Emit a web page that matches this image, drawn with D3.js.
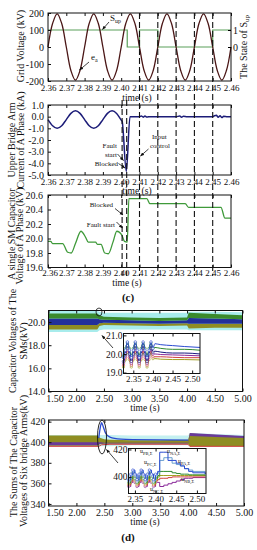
<!DOCTYPE html>
<html><head><meta charset="utf-8">
<script src="https://cdn.jsdelivr.net/npm/d3@7"></script>
<style>
body{margin:0;background:#fff}
svg{display:block}
text{font-family:"Liberation Serif","Times New Roman",serif;fill:#111}
</style></head><body>
<script>
// ---------------- DATA ----------------
// Panel (c)-1 : grid voltage e_a (kV) and S_up state
const eaT = [2.36,2.3625,2.365,2.3675,2.37,2.3725,2.375,2.3775,2.38,2.3825,2.385,2.3875,2.39,2.3925,2.395,2.3975,2.40,2.4025,2.405,2.4075,2.41,2.4125,2.415,2.4175,2.42,2.4225,2.425,2.4275,2.43,2.4325,2.435,2.4375,2.44,2.4425,2.445,2.4475,2.45,2.4525,2.455,2.4575,2.46];
const eaV = [0,138,195,138,0,-138,-195,-138,0,138,195,138,0,-138,-195,-138,0,138,195,138,0,-138,-195,-138,0,138,195,138,0,-138,-195,-138,0,138,195,138,0,-138,-195,-138,0];
const supT = [2.36,2.4033,2.41,2.42,2.45,2.46];
const supV = [1,0,1,0,1,1];
const gridTicks = [-200,-100,0,100,200];
const supTicks = [0,1];
const timeTicksC = [2.36,2.37,2.38,2.39,2.40,2.41,2.42,2.43,2.44,2.45,2.46];
const eventT = [2.4005,2.403];
const stepT = [2.41,2.42,2.43,2.44,2.45];
// Panel (c)-2 : upper bridge arm current (kA)
const curT = [2.36,2.3625,2.365,2.3675,2.37,2.3725,2.375,2.3775,2.38,2.3825,2.385,2.3875,2.39,2.3925,2.395,2.3975,2.40,2.4005,2.4028,2.4048,2.41,2.411,2.412,2.413,2.414,2.416,2.43,2.432,2.433,2.434,2.436,2.45,2.451,2.452,2.453,2.454,2.455,2.456,2.458,2.46];
const curV = [-0.25,-0.78,-1.0,-0.78,-0.25,0.28,0.5,0.28,-0.25,-0.78,-1.0,-0.78,-0.25,0.28,0.5,0.28,-0.3,-0.4,-4.7,0.0,0.0,0.06,-0.04,0.05,-0.03,0.0,0.0,0.05,-0.05,0.04,0.0,0.0,0.08,0.12,-0.05,0.08,-0.08,0.04,0.0,0.0];
const curTicks = [-5,-4,-3,-2,-1,0,1];
// Panel (c)-3 : single SM capacitor voltage (kV)
const smT = [2.36,2.3615,2.3625,2.368,2.3708,2.3727,2.375,2.378,2.3805,2.382,2.386,2.387,2.389,2.391,2.393,2.3955,2.3976,2.4003,2.4018,2.4033,2.4042,2.414,2.4157,2.435,2.4368,2.4545,2.4567,2.46];
const smV = [19.96,19.96,19.93,19.93,19.81,19.80,19.93,20.10,20.02,19.95,19.95,19.92,19.92,19.80,19.79,19.95,20.10,20.05,19.96,19.95,20.55,20.55,20.48,20.48,20.43,20.43,20.28,20.28];
const smTicks = [19.6,19.8,20.0,20.2,20.4,20.6];
// Panel (d)-1 : capacitor voltages of the SMs (envelopes of the bands)
const dT = [1.5,2.38,2.42,2.5,3.0,3.5,4.0,4.03,4.5,5.0];
const smCyanHi = [20.95,20.95,20.9,20.8,20.8,20.8,20.8,20.9,20.9,20.85];
const smCyanLo = [19.15,19.15,19.3,19.35,19.35,19.35,19.35,19.3,19.3,19.3];
const smGreenHi = [20.75,20.75,20.6,20.45,20.4,20.35,20.4,20.8,20.7,20.6];
const smGreenLo = [20.3,20.3,20.25,20.2,20.15,20.1,20.15,20.35,20.3,20.25];
const smNavyLo = [19.75,19.75,19.9,19.95,19.9,19.85,19.9,19.85,19.85,19.85];
const smOliveLo = [19.35,19.35,19.65,19.75,19.7,19.65,19.7,19.45,19.5,19.5];
const smTicksD = [14,16,18,20];
const timeTicksD = [1.5,2.0,2.5,3.0,3.5,4.0,4.5,5.0];
// inset (d)-1
const in1T = [2.325,2.33,2.335,2.34,2.345,2.35,2.355,2.36,2.365,2.37,2.375,2.38,2.385,2.39,2.395,2.40,2.405,2.42,2.45,2.48,2.52];
const in1Blue   = [19.8,20.2,20.65,20.2,19.8,20.2,20.65,20.2,19.8,20.2,20.65,20.2,19.8,20.2,20.65,20.3,20.55,20.5,20.45,20.4,20.35];
const in1Green  = [19.9,20.3,20.6,20.3,19.9,20.3,20.6,20.3,19.9,20.3,20.6,20.3,19.9,20.3,20.6,20.3,20.35,20.3,20.25,20.25,20.2];
const in1Navy   = [19.6,20.0,20.45,20.0,19.6,20.0,20.45,20.0,19.6,20.0,20.45,20.0,19.6,20.0,20.45,20.1,20.15,20.1,20.05,20.05,20.0];
const in1Purple = [19.5,19.9,20.3,19.9,19.5,19.9,20.3,19.9,19.5,19.9,20.3,19.9,19.5,19.9,20.3,20.0,20.0,19.97,19.95,19.93,19.9];
const in1Red    = [19.4,19.8,20.2,19.8,19.4,19.8,20.2,19.8,19.4,19.8,20.2,19.8,19.4,19.8,20.2,19.85,19.85,19.85,19.82,19.8,19.8];
const in1Olive  = [19.3,19.7,20.1,19.7,19.3,19.7,20.1,19.7,19.3,19.7,20.1,19.7,19.3,19.7,20.1,19.75,19.75,19.72,19.7,19.7,19.68];
const in1Ticks = [19,20,21];
const inTimeTicks = [2.35,2.40,2.45,2.50];
// Panel (d)-2 : sums of capacitor voltages of six bridge arms (kV)
const sT = [1.5,2.38,2.40,2.43,2.5,2.6,3.0,3.5,4.0,4.03,4.5,5.0];
const sumCyanHi = [407,407,407,407,407,407,406.5,406.5,406.5,409,408,407];
const sumCyanLo = [396,396,396,396,396,396,397,397,397,396,396,396];
const sumOliveHi = [406.5,406.5,405,404,403,402.5,402,402,402.5,408.5,407,405.5];
const sumOliveLo = [396.5,396.5,397.5,398,398.5,398.5,398.5,398.5,398.5,396,396,396];
const sumPurpleHi = [400,400,400,400,399.5,399.5,399.5,399.5,399.5,409,407.5,406];
const sumPurpleLo = [397,397,398,398.5,398.8,398.8,398.8,398.8,398.8,406,405,404];
const blueT = [2.40,2.42,2.45,2.48,2.52,2.6,2.8,3.0,4.0];
const blueV = [404,412,419,415,409,405,403,402.5,402];
const redT = [1.5,2.40,2.45,2.6,4.0,4.03,5.0];
const redV = [396,396,397.5,398,398,396,396];
const sumTicks = [340,360,380,400,420];
// inset (d)-2
const in2T = [2.335,2.34,2.345,2.35,2.355,2.36,2.365,2.37,2.375,2.38,2.385,2.39,2.395,2.40,2.405,2.41,2.42,2.43,2.44,2.45,2.46,2.47,2.48,2.49,2.52];
const in2PB = [398,402,405,402,398,402,405,402,398,402,405,402,398,402,404,418,418,412,412,410,408,406,404,403,402];
const in2NA = [397,401,404,401,397,401,404,401,397,401,404,401,397,401,403,412,414,414,410,409,408,406,405,404,402];
const in2PC = [396,399,403,399,396,399,403,399,396,399,403,399,396,399,401,404,404,404,403,402.5,402,402,401.5,401.5,401];
const in2PA = [395,398,402,398,395,398,402,398,395,398,402,398,395,398,400,401,401,401,401,401,401,401,401,401,401];
const in2NC = [394,397,400,397,394,397,400,397,394,397,400,397,394,397,398,399,399,399.5,400,400,400,400,400,400,400];
const in2NB = [393,396,399,396,393,396,399,396,393,396,399,396,393,396,396,393,394,395,396,397,398,399,399,399.5,400];
const in2Ticks = [400,420];

// ---------------- DRAWING ----------------
const W = 257, H = 550;
const FONT = '"Liberation Serif","Times New Roman",serif';
const svg = d3.select('body').append('svg').attr('width', W).attr('height', H);
const defs = svg.append('defs');
defs.append('marker').attr('id','ah').attr('viewBox','0 0 10 10').attr('refX',9).attr('refY',5)
  .attr('markerWidth',5).attr('markerHeight',5).attr('orient','auto')
  .append('path').attr('d','M0,1 L10,5 L0,9 z').attr('fill','#111');

function zipXY(ts, vs){ return ts.map((t,i)=>[t, vs[i]]); }

function axes(g, x, y, o){
  const [x0,x1] = x.range(), [y0,y1] = y.range();
  const fs = o.fs || 10;
  const bx = g.append('g').attr('transform',`translate(0,${y0})`)
    .call(d3.axisBottom(x).tickValues(o.xt).tickFormat(o.xf).tickSizeInner(-3).tickSizeOuter(0).tickPadding(o.xpad ?? 3));
  const ly = g.append('g').attr('transform',`translate(${x0},0)`)
    .call(d3.axisLeft(y).tickValues(o.yt).tickFormat(o.yf).tickSizeInner(-3).tickSizeOuter(0).tickPadding(o.ypad ?? 3));
  [bx,ly].forEach(a=>{a.select('.domain').remove(); a.attr('font-family',FONT);
    a.selectAll('line').attr('stroke','#111'); a.selectAll('text').attr('fill','#111');});
  bx.attr('font-size', o.xfs || fs); ly.attr('font-size', fs);
  if (o.firstDx) bx.selectAll('.tick text').filter((d,i)=>i===0).attr('dx', o.firstDx);
  if (o.top !== false) {
    g.append('g').attr('transform',`translate(0,${y1})`)
      .call(d3.axisTop(x).tickValues(o.xt).tickFormat('').tickSizeInner(-3).tickSizeOuter(0))
      .call(a=>a.select('.domain').remove()).selectAll('line').attr('stroke','#111');
  }
  g.append('rect').attr('x',x0).attr('y',y1).attr('width',x1-x0).attr('height',y0-y1)
    .attr('fill','none').attr('stroke','#111').attr('stroke-width',1);
}

function rotLabel(x, y, txt, fs){
  const t = svg.append('text').attr('transform',`translate(${x},${y}) rotate(-90)`)
    .attr('text-anchor','middle').attr('dominant-baseline','middle').attr('font-size',fs||10);
  return t.text(txt);
}
function arrow(x1,y1,x2,y2){
  svg.append('line').attr('x1',x1).attr('y1',y1).attr('x2',x2).attr('y2',y2)
    .attr('stroke','#111').attr('stroke-width',0.8).attr('marker-end','url(#ah)');
}
function label(x,y,txt,fs,anchor){
  return svg.append('text').attr('x',x).attr('y',y).attr('font-size',fs||7).attr('text-anchor',anchor||'start').text(txt);
}

// shared x scale for (c)
const xC = d3.scaleLinear().domain([2.36,2.46]).range([48,231]);
const f2 = d => d.toFixed(2);

// ---- Panel c1
const y1 = d3.scaleLinear().domain([-200,200]).range([81,13]);
const yS = d3.scaleLinear().domain([-2,2]).range([81,13]);
const g1 = svg.append('g');
g1.append('path').datum(zipXY(supT,supV)).attr('fill','none').attr('stroke','#5aa05a').attr('stroke-width',1.2)
  .attr('d', d3.line().x(d=>xC(d[0])).y(d=>yS(d[1])).curve(d3.curveStepAfter));
g1.append('path').datum(zipXY(eaT,eaV)).attr('fill','none').attr('stroke','#4a1616').attr('stroke-width',1.3)
  .attr('d', d3.line().x(d=>xC(d[0])).y(d=>y1(d[1])).curve(d3.curveCatmullRom));
axes(g1, xC, y1, {xt:timeTicksC, xf:f2, yt:gridTicks, yf:d=>String(d), xpad:4, ypad:4, xfs:9});
const rA = g1.append('g').attr('transform',`translate(${xC.range()[1]},0)`)
  .call(d3.axisRight(yS).tickValues(supTicks).tickFormat(d=>String(d)).tickSizeInner(-3).tickSizeOuter(0).tickPadding(2));
rA.select('.domain').remove(); rA.attr('font-family',FONT).attr('font-size',10);
rotLabel(21.5, 46, 'Grid Voltage (kV)', 10);
const st = svg.append('text').attr('transform','translate(245,47) rotate(-90)').attr('text-anchor','middle')
  .attr('dominant-baseline','middle').attr('font-size',10);
st.append('tspan').text('The State of S');
st.append('tspan').attr('font-size',7).attr('dy',2).text('up');
const sl = svg.append('text').attr('x',110).attr('y',21).attr('font-size',9);
sl.append('tspan').text('S'); sl.append('tspan').attr('font-size',6).attr('dy',2).text('up');
arrow(109,22,102.5,29.5);
const el = svg.append('text').attr('x',91).attr('y',60).attr('font-size',9);
el.append('tspan').text('e'); el.append('tspan').attr('font-size',6).attr('dy',2).text('a');
arrow(89,62,79.5,70);
svg.append('text').attr('x',137).attr('y',101).attr('text-anchor','middle').attr('font-size',9.5).text('time (s)');

// ---- Panel c2
const y2 = d3.scaleLinear().domain([-5,1]).range([175,105]);
const g2 = svg.append('g');
g2.append('path').datum(zipXY(curT,curV)).attr('fill','none').attr('stroke','#1c1c78').attr('stroke-width',1.5)
  .attr('d', d3.line().x(d=>xC(d[0])).y(d=>y2(d[1])).curve(d3.curveMonotoneX));
axes(g2, xC, y2, {xt:timeTicksC, xf:f2, yt:curTicks, yf:d=>d.toFixed(1), xpad:3.5, ypad:4, xfs:9});
rotLabel(12.5, 140, 'Upper Bridge Arm', 10);
rotLabel(21.5, 140, 'Current of A Phase (kA)', 10);
label(117,148,'Fault',7,'end'); label(117,157,'start',7,'end');
arrow(117.5,154,123.5,160.5);
label(118,166,'Blocked',7,'end');
arrow(118.5,163.5,125,168);
label(152,139,'Input',7); label(150,148,'control',7);
arrow(148.5,149,140.5,156);
svg.append('text').attr('x',137).attr('y',194).attr('text-anchor','middle').attr('font-size',9.5).text('time (s)');

// ---- Panel c3
const y3 = d3.scaleLinear().domain([19.6,20.6]).range([267.5,195]);
const g3 = svg.append('g');
g3.append('path').datum(zipXY(smT,smV)).attr('fill','none').attr('stroke','#3f9a3a').attr('stroke-width',1.3)
  .attr('d', d3.line().x(d=>xC(d[0])).y(d=>y3(d[1])).curve(d3.curveMonotoneX));
axes(g3, xC, y3, {xt:timeTicksC, xf:f2, yt:smTicks, yf:d=>d.toFixed(1), xpad:2.5, ypad:5, xfs:9, firstDx:1.5});
rotLabel(12.5, 234, 'A single SM Capacitor', 10);
rotLabel(21, 236, 'Voltage of  A Phase (kV)', 10);
label(113,207,'Blocked',7,'end'); arrow(115,208.5,123,215);
label(115,226.5,'Fault start',7,'end'); arrow(116.5,222,122.5,228);
svg.append('text').attr('x',127).attr('y',286).attr('text-anchor','middle').attr('font-size',9.5).text('time (s)');
svg.append('text').attr('x',128).attr('y',301).attr('text-anchor','middle').attr('font-size',11).attr('font-weight','bold').text('(c)');

// dashed event lines across (c)
const dl = svg.append('g').attr('stroke','#111').attr('stroke-width',1.1).attr('stroke-dasharray','6,3');
stepT.forEach(t=>dl.append('line').attr('x1',xC(t)).attr('x2',xC(t)).attr('y1',13).attr('y2',276));
eventT.forEach(t=>dl.append('line').attr('x1',xC(t)).attr('x2',xC(t)).attr('y1',100).attr('y2',276));

// ---- Panel d1
const xD1 = d3.scaleLinear().domain([1.5,5.0]).range([48.5,242.5]);
const yD1 = d3.scaleLinear().domain([14,21]).range([391.5,310.5]);
const gd1 = svg.append('g');
function band(g, x, y, ts, lo, hi, col){
  g.append('path').datum(ts.map((t,i)=>[t,lo[i],hi[i]])).attr('fill',col).attr('stroke','none')
    .attr('d', d3.area().x(d=>x(d[0])).y0(d=>y(d[1])).y1(d=>y(d[2])));
}
band(gd1,xD1,yD1,dT,smCyanLo,smCyanHi,'#a8ecec');
band(gd1,xD1,yD1,dT,smOliveLo,smNavyLo,'#8f8d22');
band(gd1,xD1,yD1,dT,smNavyLo,smGreenLo,'#23309a');
band(gd1,xD1,yD1,dT,smGreenLo,smGreenHi,'#3a8a2c');
axes(gd1, xD1, yD1, {xt:timeTicksD, xf:f2, yt:smTicksD, yf:d=>d.toFixed(1), xpad:3, ypad:3, firstDx:6});
svg.append('ellipse').attr('cx',99).attr('cy',312).attr('rx',3).attr('ry',4).attr('fill','none').attr('stroke','#111').attr('stroke-width',0.8);
arrow(113,348,102,335.5);
// inset d1
const xi1 = d3.scaleLinear().domain([2.325,2.52]).range([123.5,200]);
const yi1 = d3.scaleLinear().domain([18.95,21.1]).range([373.5,333.5]);
const gi1 = svg.append('g');
gi1.append('rect').attr('x',123.5).attr('y',333.5).attr('width',76.5).attr('height',40).attr('fill','#fff');
[[in1Olive,'#a0a020'],[in1Red,'#d04040'],[in1Purple,'#8a2a9a'],[in1Navy,'#1a1a80'],[in1Green,'#2f8a2f'],[in1Blue,'#2a4ad0']].forEach(([vs,c])=>{
  const pts = zipXY(in1T,vs);
  gi1.append('path').datum(pts).attr('fill','none').attr('stroke',c).attr('stroke-width',1)
    .attr('d', d3.line().x(d=>xi1(d[0])).y(d=>yi1(d[1])).curve(d3.curveMonotoneX));
  gi1.selectAll(null).data(pts.filter(d=>d[0]<=2.40)).enter().append('circle')
    .attr('cx',d=>xi1(d[0])).attr('cy',d=>yi1(d[1])).attr('r',1.2).attr('fill','#fff').attr('stroke',c).attr('stroke-width',0.6);
});
axes(gi1, xi1, yi1, {xt:inTimeTicks, xf:f2, yt:in1Ticks, yf:d=>d.toFixed(1), xpad:2, ypad:1, fs:9.5, xfs:9});
rotLabel(14, 341, 'Capacitor  Voltages of The', 10);
rotLabel(25, 341, 'SMs(kV)', 10);
svg.append('text').attr('x',145).attr('y',411).attr('text-anchor','middle').attr('font-size',9.5).text('time (s)');

// ---- Panel d2
const xD2 = d3.scaleLinear().domain([1.5,5.0]).range([48.5,244]);
const yD2 = d3.scaleLinear().domain([338,421.6]).range([506,420]);
const gd2 = svg.append('g');
svg.append('ellipse').attr('cx',102).attr('cy',437).attr('rx',4.5).attr('ry',17).attr('fill','none').attr('stroke','#111').attr('stroke-width',0.9);
band(gd2,xD2,yD2,sT,sumCyanLo,sumCyanHi,'#c4f0f0');
band(gd2,xD2,yD2,sT,sumOliveLo,sumOliveHi,'#8f8d22');
band(gd2,xD2,yD2,sT,sumPurpleLo,sumPurpleHi,'#6a3a9a');
gd2.append('path').datum(zipXY(redT,redV)).attr('fill','none').attr('stroke','#d03a3a').attr('stroke-width',1)
  .attr('d', d3.line().x(d=>xD2(d[0])).y(d=>yD2(d[1])));
gd2.append('path').datum(zipXY(blueT,blueV)).attr('fill','none').attr('stroke','#2a4ad0').attr('stroke-width',1.3)
  .attr('d', d3.line().x(d=>xD2(d[0])).y(d=>yD2(d[1])).curve(d3.curveMonotoneX));
axes(gd2, xD2, yD2, {xt:timeTicksD, xf:f2, yt:sumTicks, yf:d=>String(d), xpad:3, ypad:3, firstDx:6});
arrow(118,463,106.5,449.5);
// inset d2
const xi2 = d3.scaleLinear().domain([2.3345,2.522]).range([128.5,206]);
const yi2 = d3.scaleLinear().domain([387.9,420.7]).range([493.5,448.5]);
const gi2 = svg.append('g');
gi2.append('rect').attr('x',128.5).attr('y',448.5).attr('width',77.5).attr('height',45).attr('fill','#fff');
[[in2NB,'#8a2a9a'],[in2NC,'#d04040'],[in2PA,'#a0a020'],[in2PC,'#2f8a2f'],[in2NA,'#6aa0d0'],[in2PB,'#2a4ad0']].forEach(([vs,c])=>{
  const pts = zipXY(in2T,vs);
  gi2.append('path').datum(pts).attr('fill','none').attr('stroke',c).attr('stroke-width',1)
    .attr('d', d3.line().x(d=>xi2(d[0])).y(d=>yi2(d[1])).curve(d3.curveStepAfter));
  gi2.selectAll(null).data(pts.filter(d=>d[0]<=2.40)).enter().append('circle')
    .attr('cx',d=>xi2(d[0])).attr('cy',d=>yi2(d[1])).attr('r',1.2).attr('fill','#fff').attr('stroke',c).attr('stroke-width',0.6);
});
axes(gi2, xi2, yi2, {xt:inTimeTicks, xf:f2, yt:in2Ticks, yf:d=>String(d), xpad:2, ypad:1, fs:9.5, xfs:9});
function uLab(x,y,sub){ const t=svg.append('text').attr('x',x).attr('y',y).attr('font-size',6);
  t.append('tspan').text('u'); t.append('tspan').attr('font-size',4.5).attr('dy',1.5).text(sub); }
uLab(140,453,'PB,Σ'); uLab(167,453,'NA,Σ'); uLab(144,464,'PC,Σ'); uLab(178,463,'PA,Σ');
uLab(150,491,'NC,Σ'); uLab(181,481,'NB,Σ');
rotLabel(15, 462, 'The Sums of The Capacitor', 10);
rotLabel(25, 461, 'Voltages of Six bridge  Arms(kV)', 10);
svg.append('text').attr('x',145).attr('y',525).attr('text-anchor','middle').attr('font-size',9.5).text('time (s)');
svg.append('text').attr('x',128).attr('y',541).attr('text-anchor','middle').attr('font-size',11).attr('font-weight','bold').text('(d)');
</script>
</body></html>
